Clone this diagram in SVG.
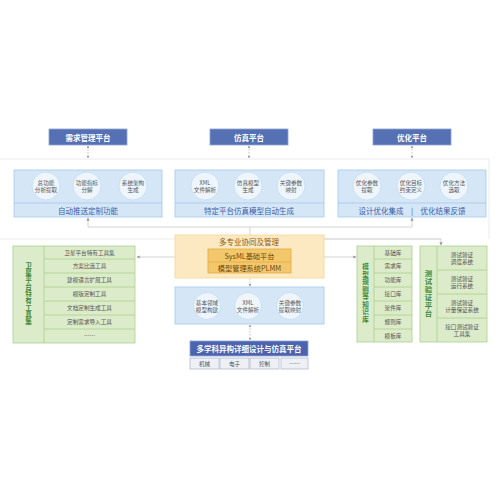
<svg xmlns="http://www.w3.org/2000/svg" width="500" height="500" viewBox="0 0 500 500">
<defs>
<marker id="ar" viewBox="0 0 6 6" refX="5" refY="3" markerWidth="4" markerHeight="4" orient="auto-start-reverse"><path d="M0,0 L6,3 L0,6 z" fill="#999"/></marker>
<style>
text{font-family:"Noto Sans CJK SC","Noto Sans",sans-serif;text-anchor:middle;dominant-baseline:central}
.hdr{fill:#5570b3;stroke:#8ea2d2;stroke-width:0.8}
.hdrt{fill:#fff;font-size:7.5px;font-weight:bold}
.pan{fill:#d5e7f7;stroke:#a3c8ea;stroke-width:0.8}
.cir{fill:#eef5fc;stroke:#c3daf0;stroke-width:0.8}
.ct{fill:#555;font-size:5.6px}
.pl{fill:#3b5ea8;font-size:7.5px}
.grn{fill:#dcebc9;stroke:#a9d18e;stroke-width:0.8}
.gt{fill:#555;font-size:5.6px}
.vt{fill:#3f8a3a;font-weight:bold;writing-mode:vertical-rl;text-orientation:upright}
.con{fill:none;stroke:#c8c8c8;stroke-width:0.8}
.dash{fill:none;stroke:#aaa;stroke-width:0.7;stroke-dasharray:1.5,1.5}
.frame{fill:none;stroke:#e6e6e6;stroke-width:0.8}
</style>
</defs>
<rect width="500" height="500" fill="#fff"/>
<g id="frame"><path class="frame" d="M0,159 H489 V239"/><path class="frame" d="M0,239 H441"/></g>
<g id="connectors">
<line class="dash" x1="88" y1="146" x2="88" y2="158" marker-start="url(#ar)" marker-end="url(#ar)"/>
<line class="dash" x1="249" y1="146" x2="249" y2="158" marker-start="url(#ar)" marker-end="url(#ar)"/>
<line class="dash" x1="412" y1="146" x2="412" y2="158" marker-start="url(#ar)" marker-end="url(#ar)"/>
<path class="con" d="M88,218 V227 H412 V218" marker-start="url(#ar)" marker-end="url(#ar)"/>
<line class="con" x1="250" y1="227" x2="250" y2="235"/>
<line class="con" x1="175" y1="257" x2="137" y2="257" marker-end="url(#ar)"/>
<line class="con" x1="324" y1="257" x2="356" y2="257" marker-end="url(#ar)"/>
<path class="con" d="M324,239 H441 V245" marker-end="url(#ar)"/>
<line class="dash" x1="250" y1="279" x2="250" y2="286" marker-end="url(#ar)"/>
<line class="dash" x1="250" y1="325" x2="250" y2="340" marker-start="url(#ar)" marker-end="url(#ar)"/>
</g>
<g id="req-platform"><rect class="hdr" x="49" y="129" width="78" height="16"/><text class="hdrt" x="88" y="137">需求管理平台</text></g>
<g id="sim-platform"><rect class="hdr" x="210" y="129" width="78" height="16"/><text class="hdrt" x="249" y="137">仿真平台</text></g>
<g id="opt-platform"><rect class="hdr" x="373" y="129" width="78" height="16"/><text class="hdrt" x="412" y="137">优化平台</text></g>
<g id="panel1">
<rect class="pan" x="14" y="170" width="148" height="47"/><line x1="14" y1="203" x2="162" y2="203" stroke="#a3c8ea" stroke-width="0.8"/>
<circle class="cir" cx="46" cy="186" r="14"/><text class="ct" x="46" y="183">总功能</text><text class="ct" x="46" y="190">分析提取</text>
<circle class="cir" cx="87" cy="186" r="14"/><text class="ct" x="87" y="183">功能指标</text><text class="ct" x="87" y="190">分解</text>
<circle class="cir" cx="133" cy="186" r="14"/><text class="ct" x="133" y="183">系统架构</text><text class="ct" x="133" y="190">生成</text>
<text class="pl" x="88" y="210">自动推送定制功能</text>
</g>
<g id="panel2">
<rect class="pan" x="175" y="170" width="149" height="47"/><line x1="175" y1="203" x2="324" y2="203" stroke="#a3c8ea" stroke-width="0.8"/>
<circle class="cir" cx="205" cy="186" r="14"/><text class="ct" x="205" y="183">XML</text><text class="ct" x="205" y="190">文件解析</text>
<circle class="cir" cx="248" cy="186" r="14"/><text class="ct" x="248" y="183">仿真模型</text><text class="ct" x="248" y="190">生成</text>
<circle class="cir" cx="291" cy="186" r="14"/><text class="ct" x="291" y="183">关键参数</text><text class="ct" x="291" y="190">映射</text>
<text class="pl" x="249" y="210">特定平台仿真模型自动生成</text>
</g>
<g id="panel3">
<rect class="pan" x="338" y="170" width="148" height="47"/><line x1="338" y1="203" x2="486" y2="203" stroke="#a3c8ea" stroke-width="0.8"/>
<circle class="cir" cx="367" cy="186" r="14"/><text class="ct" x="367" y="183">优化参数</text><text class="ct" x="367" y="190">提取</text>
<circle class="cir" cx="411" cy="186" r="14"/><text class="ct" x="411" y="183">优化目标</text><text class="ct" x="411" y="190">约束定义</text>
<circle class="cir" cx="454" cy="186" r="14"/><text class="ct" x="454" y="183">优化方法</text><text class="ct" x="454" y="190">选取</text>
<text class="pl" x="412" y="210">设计优化集成　|　优化结果反馈</text>
</g>
<g id="collab">
<rect x="175" y="235" width="149" height="43" fill="#fce9c2" stroke="#f6d690" stroke-width="0.8"/>
<text x="249" y="241.5" fill="#8a5a12" font-size="7.5">多专业协同及管理</text>
<rect x="208" y="249" width="83" height="24" fill="#f3c86c" stroke="#e2ab42" stroke-width="0.8"/>
<line x1="208" y1="262" x2="291" y2="262" stroke="#e2ab42" stroke-width="0.8"/>
<text x="249.5" y="255.5" fill="#6e4608" font-size="7.2">SysML基础平台</text>
<text x="249.5" y="268" fill="#6e4608" font-size="7.2">模型管理系统PLMM</text>
</g>
<g id="basic-model">
<rect class="pan" x="175" y="287" width="149" height="37"/>
<circle class="cir" cx="207" cy="306" r="13.5"/><text class="ct" x="207" y="303">基本领域</text><text class="ct" x="207" y="310">模型构建</text>
<circle class="cir" cx="248" cy="306" r="13.5"/><text class="ct" x="248" y="303">XML</text><text class="ct" x="248" y="310">文件解析</text>
<circle class="cir" cx="290" cy="306" r="13.5"/><text class="ct" x="290" y="303">关键参数</text><text class="ct" x="290" y="310">提取映射</text>
</g>
<g id="multi-platform">
<rect x="190" y="341" width="118" height="15" fill="#4c64ad" stroke="#8ea2d2" stroke-width="0.8"/>
<text class="hdrt" x="249" y="348.5">多学科异构详细设计与仿真平台</text>
<g fill="#eef0f6" stroke="#aab3cc" stroke-width="0.7">
<rect x="190" y="358" width="29" height="11"/><rect x="220" y="358" width="29" height="11"/><rect x="250" y="358" width="29" height="11"/><rect x="281" y="358" width="27" height="11"/></g>
<text class="gt" x="204.5" y="363.5">机械</text><text class="gt" x="234.5" y="363.5">电子</text><text class="gt" x="264.5" y="363.5">控制</text><text class="gt" x="294.5" y="363.5">……</text>
</g>
<g id="sat-tools">
<rect class="grn" x="13" y="246" width="122" height="97"/>
<line x1="44" y1="246" x2="44" y2="343" stroke="#a9d18e" stroke-width="0.8"/>
<g stroke="#a9d18e" stroke-width="0.8"><line x1="44" y1="259" x2="135" y2="259"/><line x1="44" y1="273" x2="135" y2="273"/><line x1="44" y1="287" x2="135" y2="287"/><line x1="44" y1="301" x2="135" y2="301"/><line x1="44" y1="315" x2="135" y2="315"/><line x1="44" y1="329" x2="135" y2="329"/></g>
<text class="vt" x="28.5" y="294" font-size="6.6" letter-spacing="0.4">卫星平台特有工具集</text>
<text class="gt" x="89.5" y="252.5">卫星平台特有工具集</text>
<text class="gt" x="89.5" y="266">方案比选工具</text>
<text class="gt" x="89.5" y="280">建模语言扩展工具</text>
<text class="gt" x="89.5" y="294">模版定制工具</text>
<text class="gt" x="89.5" y="308">文档定制生成工具</text>
<text class="gt" x="89.5" y="322">定制需求导入工具</text>
<text class="gt" x="89.5" y="336">……</text>
</g>
<g id="knowledge">
<rect class="grn" x="357" y="246" width="55" height="96"/>
<line x1="374" y1="246" x2="374" y2="342" stroke="#a9d18e" stroke-width="0.8"/>
<g stroke="#a9d18e" stroke-width="0.8"><line x1="374" y1="259" x2="412" y2="259"/><line x1="374" y1="273" x2="412" y2="273"/><line x1="374" y1="287" x2="412" y2="287"/><line x1="374" y1="301" x2="412" y2="301"/><line x1="374" y1="315" x2="412" y2="315"/><line x1="374" y1="329" x2="412" y2="329"/></g>
<text class="vt" x="365.5" y="293.5" font-size="6.6" letter-spacing="0.9">模型规则等知识库</text>
<text class="gt" x="393" y="252.5">基础库</text><text class="gt" x="393" y="266">需求库</text><text class="gt" x="393" y="280">功能库</text><text class="gt" x="393" y="294">接口库</text><text class="gt" x="393" y="308">架件库</text><text class="gt" x="393" y="322">规则库</text><text class="gt" x="393" y="335.5">模板库</text>
</g>
<g id="test-platform">
<rect class="grn" x="420" y="246" width="67" height="96"/>
<line x1="437" y1="246" x2="437" y2="342" stroke="#a9d18e" stroke-width="0.8"/>
<g stroke="#a9d18e" stroke-width="0.8"><line x1="437" y1="270" x2="487" y2="270"/><line x1="437" y1="294" x2="487" y2="294"/><line x1="437" y1="318" x2="487" y2="318"/></g>
<text class="vt" x="428.5" y="293.5" font-size="7.4" letter-spacing="0.6">测试验证平台</text>
<text class="gt" x="462" y="254.5">测试验证</text><text class="gt" x="462" y="261.5">调度系统</text>
<text class="gt" x="462" y="278.5">测试验证</text><text class="gt" x="462" y="285.5">运行系统</text>
<text class="gt" x="462" y="302.5">测试验证</text><text class="gt" x="462" y="309.5">计量保证系统</text>
<text class="gt" x="462" y="326.5">接口测试验证</text><text class="gt" x="462" y="333.5">工具集</text>
</g>
</svg>
